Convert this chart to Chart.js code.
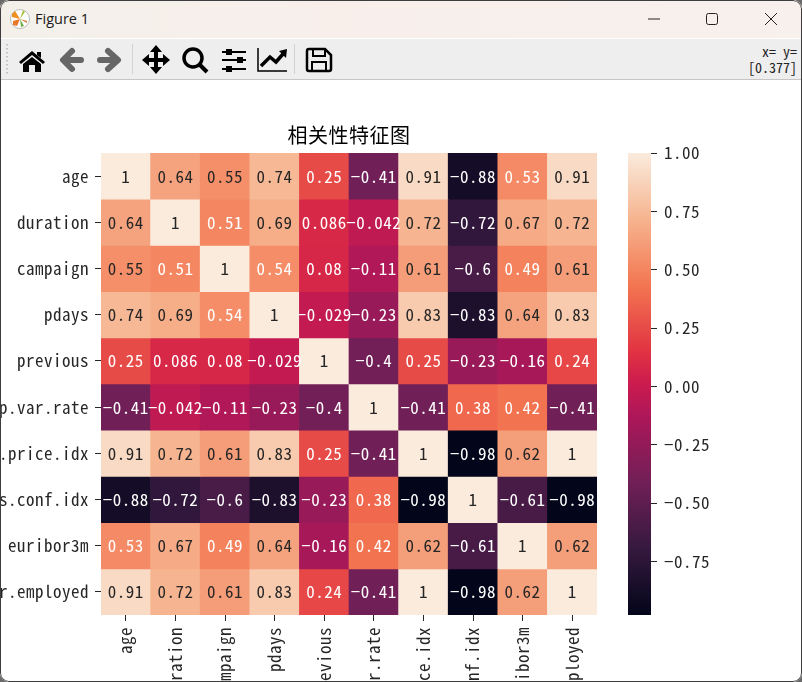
<!DOCTYPE html>
<html>
<head>
<meta charset="utf-8">
<title>Figure 1</title>
<script src="https://cdn.jsdelivr.net/npm/chart.js@4"></script>
<style>
html, body { margin: 0; padding: 0; width: 802px; height: 682px; overflow: hidden; background: #6a6a6a; }
#window { position: absolute; left: 0; top: 0; width: 802px; height: 682px; background: #fff; border-radius: 9px; overflow: hidden; }
#titlebar { position: absolute; left: 0; top: 0; width: 802px; height: 38px; background: linear-gradient(90deg, #f3f0ea, #f8efeb 40%, #f8f0ec); }
#titlebar span { position: absolute; left: 35px; top: 9px; font: 14.5px "Open Sans", "Noto Sans", sans-serif; color: #1a1a1a; }
#toolbar { position: absolute; left: 0; top: 39px; width: 802px; height: 40px; background: #eeeeee; border-bottom: 1px solid #c6c6c6; }
#coords { position: absolute; right: 5px; top: 4px; text-align: right; font: 14px/16px "Noto Sans Mono CJK SC", "Liberation Mono", monospace; color: #222; white-space: pre; }
#icons { position: absolute; left: 0; top: 0; }
#heat { position: absolute; left: 0; top: 80px; }
#bar { position: absolute; left: 597px; top: 80px; }
#frame { position: absolute; left: 0; top: 0; width: 800px; height: 680px; border: 1px solid #3d3d3d; border-radius: 9px; pointer-events: none; }
</style>
</head>
<body>
<div id="window">
	<div id="titlebar"><span>Figure 1</span></div>
	<div id="toolbar"><div id="coords">x= y=
[0.377]</div></div>
	<canvas id="heat" width="802" height="602"></canvas>
	<canvas id="bar" width="205" height="602"></canvas>
	<svg id="icons" width="802" height="80" xmlns="http://www.w3.org/2000/svg">
		<!-- app logo -->
		<circle cx="20" cy="19" r="9.5" fill="#fff" stroke="#bbb"/>
		<path d="M20 19 L15 11 L12 14 L12 17Z" fill="#ee8f1e"/>
		<path d="M20 19 L23 10 L25 12Z" fill="#a9c23f"/>
		<path d="M20 19 L27 21 L27 23Z" fill="#d9742e"/>
		<path d="M20 19 L24 26 L21 27Z" fill="#6fae45"/>
		<path d="M20 19 L13 21 L13 25 L17 26Z" fill="#e8772a"/>
		<!-- grip and separators -->
		<path d="M7 44 V76" stroke="#b5b5b5" stroke-width="1.5" stroke-dasharray="1.5 2.5"/>
		<path d="M132.5 44 V74 M294.5 44 V74" stroke="#d2d2d2"/>
		<!-- home -->
		<path d="M19 62 L32 51 L45 62 L43 64 L32 55 L21 64Z M37 52 H41 V58 L37 55Z M23 64 L32 57 L41 64 V72 H35 V65 H29 V72 H23Z" fill="#000"/>
		<!-- back, forward -->
		<path d="M81 60 H65 M72 51 L63 60 L72 69 M100 60 H116 M108 51 L118 60 L108 69" fill="none" stroke="#666" stroke-width="6" stroke-linecap="round" stroke-linejoin="round"/>
		<!-- pan -->
		<path d="M156 50 V70 M147 60 H165" stroke="#000" stroke-width="4"/>
		<path d="M156 45 L162 52 H150Z M156 74 L162 67 H150Z M142 60 L149 54 V66Z M170 60 L163 54 V66Z" fill="#000"/>
		<!-- zoom -->
		<circle cx="193" cy="58" r="9" fill="none" stroke="#000" stroke-width="3.5"/>
		<path d="M200 65 L207 72" stroke="#000" stroke-width="4"/>
		<!-- subplots -->
		<path d="M222 52 H246 M222 60 H246 M222 69 H246" stroke="#000" stroke-width="2"/>
		<path d="M226 49 H232 V55 H226Z M237 57 H243 V63 H237Z M226 66 H232 V72 H226Z" fill="#000"/>
		<!-- edit lines -->
		<path d="M258 48 V71 H287" fill="none" stroke="#000" stroke-width="1.5"/>
		<path d="M261 66 L270 57 L276 62 L283 54" fill="none" stroke="#000" stroke-width="3.5"/>
		<path d="M279 51 L287 49 L286 58Z" fill="#000"/>
		<!-- save -->
		<path d="M309 49 H325 L331 55 V69 Q331 71 329 71 H309 Q307 71 307 69 V51 Q307 49 309 49Z" fill="none" stroke="#000" stroke-width="2.5"/>
		<path d="M313 49 H325 V56 H313Z" fill="none" stroke="#000" stroke-width="2"/>
		<path d="M312 71 V62 H326 V71" fill="none" stroke="#000" stroke-width="2"/>
		<!-- window buttons -->
		<path d="M648 19 H660" stroke="#222" stroke-width="1"/>
		<rect x="706.5" y="13.5" width="11" height="11" rx="2" fill="none" stroke="#222"/>
		<path d="M765 13 L777 25 M777 13 L765 25" stroke="#222"/>
	</svg>
	<div id="frame"></div>
</div>
<script>
const labelFont = '"Noto Sans Mono CJK SC", "DejaVu Sans Mono", monospace';

const features = [ 'age', 'duration', 'campaign', 'pdays', 'previous', 'emp.var.rate', 'cons.price.idx', 'cons.conf.idx', 'euribor3m', 'nr.employed' ];

const ageRow = [ 1, 0.64, 0.55, 0.74, 0.25, -0.41, 0.91, -0.88, 0.53, 0.91 ];
const durationRow = [ 0.64, 1, 0.51, 0.69, 0.086, -0.042, 0.72, -0.72, 0.67, 0.72 ];
const campaignRow = [ 0.55, 0.51, 1, 0.54, 0.08, -0.11, 0.61, -0.6, 0.49, 0.61 ];
const pdaysRow = [ 0.74, 0.69, 0.54, 1, -0.029, -0.23, 0.83, -0.83, 0.64, 0.83 ];
const previousRow = [ 0.25, 0.086, 0.08, -0.029, 1, -0.4, 0.25, -0.23, -0.16, 0.24 ];
const empVarRow = [ -0.41, -0.042, -0.11, -0.23, -0.4, 1, -0.41, 0.38, 0.42, -0.41 ];
const consPriceRow = [ 0.91, 0.72, 0.61, 0.83, 0.25, -0.41, 1, -0.98, 0.62, 1 ];
const consConfRow = [ -0.88, -0.72, -0.6, -0.83, -0.23, 0.38, -0.98, 1, -0.61, -0.98 ];
const euriborRow = [ 0.53, 0.67, 0.49, 0.64, -0.16, 0.42, 0.62, -0.61, 1, 0.62 ];
const employedRow = [ 0.91, 0.72, 0.61, 0.83, 0.24, -0.41, 1, -0.98, 0.62, 1 ];

const rows = [ ageRow, durationRow, campaignRow, pdaysRow, previousRow, empVarRow, consPriceRow, consConfRow, euriborRow, employedRow ];

const colorbarTicks = [ 1, 0.75, 0.5, 0.25, 0, -0.25, -0.5, -0.75 ];

const minValue = Math.min(...rows.flat());
const maxValue = Math.max(...rows.flat());

//rocket colormap
const rocket = [
	[ 0, 3, 5, 26 ],
	[ 0.143, 53, 25, 62 ],
	[ 0.286, 112, 31, 87 ],
	[ 0.429, 173, 23, 89 ],
	[ 0.5, 203, 27, 79 ],
	[ 0.571, 225, 51, 66 ],
	[ 0.714, 243, 118, 81 ],
	[ 0.857, 246, 180, 143 ],
	[ 1, 250, 235, 221 ]
];

function colorFor(v) {
	const t = (v - minValue) / (maxValue - minValue);
	for (let i = 1; i < rocket.length; i++) {
		if (t <= rocket[i][0]) {
			const a = rocket[i - 1];
			const b = rocket[i];
			const f = (t - a[0]) / (b[0] - a[0]);
			return `rgb(${a[1] + (b[1] - a[1]) * f}, ${a[2] + (b[2] - a[2]) * f}, ${a[3] + (b[3] - a[3]) * f})`;
		}
	}
	return 'rgb(250, 235, 221)';
}

const minus = (text) => String(text).replace('-', '\u2212');

//one dataset per row, each cell a floating bar one unit tall
const heatDatasets = rows.map((row, r) => ({
	label: features[r],
	data: row.map(() => [ r, r + 1 ]),
	values: row,
	backgroundColor: row.map(colorFor),
	borderWidth: 0,
	barPercentage: 1,
	categoryPercentage: 1,
	grouped: false
}));

//wider label tracking, the mono face runs a little tight
const tracking = {
	id: 'tracking',
	beforeDraw(chart) {
		chart.ctx.letterSpacing = '0.5px';
	}
};

//cell annotations
const annotate = {
	id: 'annotate',
	afterDatasetsDraw(chart) {
		const c = chart.ctx;
		c.save();
		c.font = `17px ${labelFont}`;
		c.textAlign = 'center';
		c.textBaseline = 'middle';
		chart.data.datasets.forEach((ds, r) => {
			chart.getDatasetMeta(r).data.forEach((el, i) => {
				const v = ds.values[i];
				const p = el.getCenterPoint();
				c.fillStyle = v < 0.545 ? '#ffffff' : '#262626';
				c.fillText(minus(v), p.x, p.y);
			});
		});
		c.restore();
	}
};

const heatChart = new Chart(document.querySelector('#heat').getContext('2d'), {
	type: 'bar',
	data: { labels: features, datasets: heatDatasets },
	plugins: [ tracking, annotate ],
	options: {
		responsive: false,
		animation: false,
		layout: { padding: { left: 0, top: 0, right: 205, bottom: 0 } },
		plugins: {
			legend: { display: false },
			tooltip: { enabled: false },
			title: {
				display: true,
				text: '相关性特征图',
				fullSize: false,
				color: '#000',
				font: { family: '"Noto Sans CJK SC"', size: 20, weight: 'normal', lineHeight: 1.25 },
				padding: { top: 43, bottom: 5 }
			}
		},
		scales: {
			x: {
				afterFit: (axis) => { axis.height = 67; },
				grid: { drawOnChartArea: false, offset: false, tickLength: 6, color: '#262626' },
				border: { display: false },
				ticks: {
					autoSkip: false,
					minRotation: 90,
					maxRotation: 90,
					padding: 6,
					color: '#262626',
					font: { family: labelFont, size: 17 }
				}
			},
			y: {
				min: 0,
				max: 10,
				reverse: true,
				afterFit: (axis) => { axis.width = 101; },
				afterBuildTicks: (axis) => { axis.ticks = features.map((f, i) => ({ value: i + 0.5 })); },
				grid: { drawOnChartArea: false, tickLength: 6, color: '#262626' },
				border: { display: false },
				ticks: {
					autoSkip: false,
					padding: 6,
					color: '#262626',
					font: { family: labelFont, size: 17 },
					callback: (v) => features[v - 0.5]
				}
			}
		}
	}
});

//colorbar
function colorbarFill(context) {
	const area = context.chart.chartArea;
	if (!area) return '#000';
	const g = context.chart.ctx.createLinearGradient(0, area.bottom, 0, area.top);
	rocket.forEach((s) => g.addColorStop(s[0], `rgb(${s[1]}, ${s[2]}, ${s[3]})`));
	return g;
}

const colorbar = new Chart(document.querySelector('#bar').getContext('2d'), {
	type: 'bar',
	data: {
		labels: [ 'scale' ],
		datasets: [
			{
				data: [ [ minValue, maxValue ] ],
				backgroundColor: colorbarFill,
				borderWidth: 0,
				barPercentage: 1,
				categoryPercentage: 1
			}
		]
	},
	plugins: [ tracking ],
	options: {
		responsive: false,
		animation: false,
		layout: { padding: { left: 31, top: 73, right: 0, bottom: 67 } },
		plugins: { legend: { display: false }, tooltip: { enabled: false } },
		scales: {
			x: { display: false },
			y: {
				position: 'right',
				min: minValue,
				max: maxValue,
				afterFit: (axis) => { axis.width = 151; },
				afterBuildTicks: (axis) => { axis.ticks = colorbarTicks.map((value) => ({ value })); },
				grid: { drawOnChartArea: false, tickLength: 6, color: '#262626' },
				border: { display: false },
				ticks: {
					autoSkip: false,
					padding: 7,
					color: '#262626',
					font: { family: labelFont, size: 17 },
					callback: (v) => minus(v.toFixed(2))
				}
			}
		}
	}
});
</script>
</body>
</html>
